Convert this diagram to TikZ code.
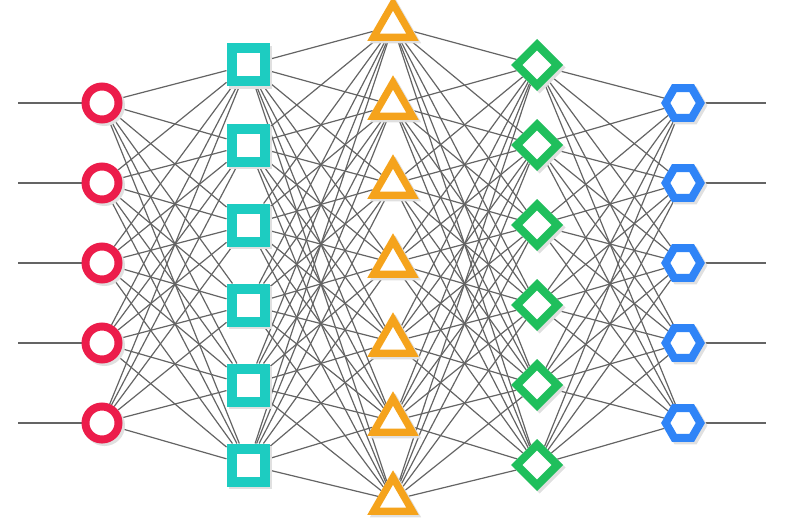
\documentclass[tikz,border=0pt]{standalone}
\usepackage{xcolor}
\usepackage{tikz}
\usetikzlibrary{shapes,shadows,backgrounds}

\definecolor{netred}{RGB}{236,28,74}
\definecolor{netcyan}{RGB}{29,204,193}
\definecolor{netorange}{RGB}{245,163,28}
\definecolor{netgreen}{RGB}{31,191,92}
\definecolor{netblue}{RGB}{47,132,247}
\definecolor{linkgray}{RGB}{100,100,100}

\tikzset{
  neuron/.style={fill=white, inner sep=0pt, line width=8pt,
    preaction={draw=black!12, transform canvas={xshift=2.5pt,yshift=-2.5pt}}},
  inputnode/.style={neuron, circle, draw=netred, minimum size=33pt},
  squarenode/.style={neuron, rectangle, draw=netcyan, minimum size=33pt, line width=10pt},
  trianglenode/.style={neuron, regular polygon, regular polygon sides=3, draw=netorange, minimum size=45pt, line width=7.2pt},
  diamondnode/.style={neuron, diamond, aspect=1, draw=netgreen, minimum size=44pt},
  outputnode/.style={neuron, regular polygon, regular polygon sides=6, draw=netblue, minimum size=34.6pt},
  link/.style={draw=linkgray, line width=1.2pt}
}

\begin{document}
\begin{tikzpicture}[x=1pt,y=-1pt]
  \useasboundingbox (0,0) rectangle (786,524);

  % the five layers
  \foreach \i in {1,...,5}
    \node[inputnode] (a\i) at (102,23+80*\i) {};
  \foreach \i in {1,...,6}
    \node[squarenode] (b\i) at (248,-15+80*\i) {};
  \foreach \i in {1,...,7}
    \node[trianglenode] (c\i) at (393,-53+79*\i) {};
  \foreach \i in {1,...,6}
    \node[diamondnode] (d\i) at (537,-15+80*\i) {};
  \foreach \i in {1,...,5}
    \node[outputnode] (e\i) at (683,23+80*\i) {};

  \begin{pgfonlayer}{background}
    % inputs and outputs
    \foreach \i in {1,...,5} {
      \coordinate (in\i) at (18,23+80*\i);
      \coordinate (out\i) at (766,23+80*\i);
      \draw[link] (in\i) -- (a\i);
      \draw[link] (e\i) -- (out\i);
    }
    % weights
    \foreach \i in {1,...,5}
      \foreach \j in {1,...,6}
        \draw[link] (a\i) -- (b\j);
    \foreach \i in {1,...,6}
      \foreach \j in {1,...,7}
        \draw[link] (b\i) -- (c\j);
    \foreach \i in {1,...,7}
      \foreach \j in {1,...,6}
        \draw[link] (c\i) -- (d\j);
    \foreach \i in {1,...,6}
      \foreach \j in {1,...,5}
        \draw[link] (d\i) -- (e\j);
  \end{pgfonlayer}

\end{tikzpicture}
\end{document}
